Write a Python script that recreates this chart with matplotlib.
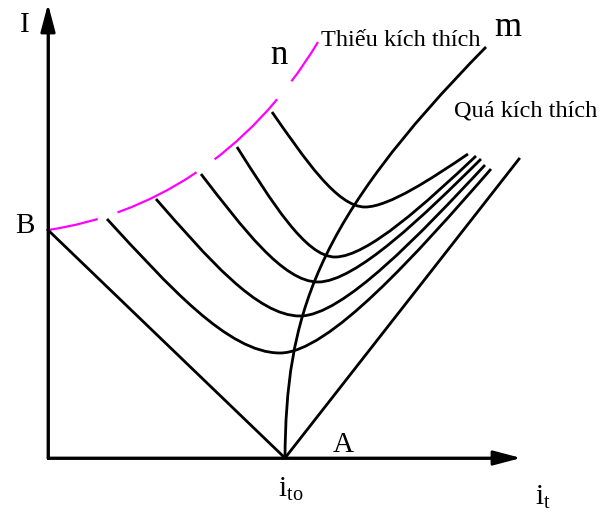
import matplotlib
matplotlib.use("Agg")
import matplotlib.pyplot as plt
from matplotlib.path import Path
from matplotlib.patches import PathPatch

plt.rcParams['font.family'] = ['Liberation Serif', 'DejaVu Serif']
plt.rcParams['mathtext.fontset'] = 'custom'
plt.rcParams['mathtext.rm'] = 'Liberation Serif'
plt.rcParams['lines.scale_dashes'] = False

# V-curves: excitation current (i_t) and stator current (I), diagram units
v_start_it = [224, 189, 153, 108, 59]
v_start_I = [346, 311, 284, 259, 239]
v_min_it = [317, 287, 270, 252, 232]
v_min_I = [251, 201, 176, 142, 105]
v_end_it = [420, 428, 433, 437, 443]
v_end_I = [304, 302, 299, 293, 289]

# zero-load lines B -> A -> right
i_to = 237
B_I = 228
right_end = (471, 299)

# curve m (cos phi = 1 locus), bezier control points
m_it = [237, 238, 265, 438]
m_I = [0, 140, 235, 411]

# curve n (stability limit), bezier control points
n_it = [0, 100, 200, 270]
n_I = [228, 243, 300, 416]

fig = plt.figure(figsize=(6.02, 5.14), dpi=100)
ax = fig.add_axes([0, 0, 1, 1])
ax.set_xlim(-48, 554)
ax.set_ylim(-56, 458)
ax.axis('off')

C4 = [Path.MOVETO, Path.CURVE4, Path.CURVE4, Path.CURVE4]
lw = 2.0

for s0, s1, m0, m1, e0, e1 in zip(v_start_it, v_start_I, v_min_it, v_min_I, v_end_it, v_end_I):
    dxl, dyl = m0 - s0, s1 - m1
    dxr, dyr = e0 - m0, e1 - m1
    verts = [(s0, s1), (s0 + 0.35 * dxl, s1 - 0.49 * dyl), (m0 - 0.30 * dxl, m1), (m0, m1),
             (m0 + 0.23 * dxr, m1), (e0 - 0.35 * dxr, e1 - 0.46 * dyr), (e0, e1)]
    codes = C4 + [Path.CURVE4] * 3
    ax.add_patch(PathPatch(Path(verts, codes), fill=False, lw=lw, ec='black'))

ax.plot([0, i_to, right_end[0]], [B_I, 0, right_end[1]], color='black', lw=lw)

ax.add_patch(PathPatch(Path(list(zip(m_it, m_I)), C4), fill=False, lw=lw, ec='black'))

n_dash = (0, (36.7, 15, 64, 16, 62.6, 16.5, 36, 100))
ax.add_patch(PathPatch(Path(list(zip(n_it, n_I)), C4), fill=False, lw=1.6,
                       ec='#ff00ff', linestyle=n_dash))

# axes with arrows
arrow = dict(arrowstyle='-|>,head_length=1.7,head_width=0.45', color='black', lw=lw,
             shrinkA=0, shrinkB=0, mutation_scale=10)
ax.annotate('', xy=(0, 454), xytext=(0, 0), arrowprops=arrow)
ax.annotate('', xy=(473, 0), xytext=(0, 0), arrowprops=arrow)
ax.plot([0, 0], [0, 430], color='black', lw=lw)
ax.plot([0, 450], [0, 0], color='black', lw=lw)

ax.text(-23, 426, 'I', fontsize=21, ha='center', va='baseline')
ax.text(-23, 225, 'B', fontsize=21, ha='center', va='baseline')
ax.text(231, 394, 'n', fontsize=25, ha='center', va='baseline')
ax.text(460, 422, 'm', fontsize=25, ha='center', va='baseline')
ax.text(273, 412, 'Thiếu kích thích', fontsize=17.5, ha='left', va='baseline')
ax.text(406, 341, 'Quá kích thích', fontsize=17.5, ha='left', va='baseline')
ax.text(295, 6, 'A', fontsize=21, ha='center', va='baseline')
ax.text(230, -39, r'$\mathrm{i_{to}}$', fontsize=21, ha='left', va='baseline')
ax.text(487, -47, r'$\mathrm{i_{t}}$', fontsize=21, ha='left', va='baseline')

fig.savefig('out.png', dpi=100)
